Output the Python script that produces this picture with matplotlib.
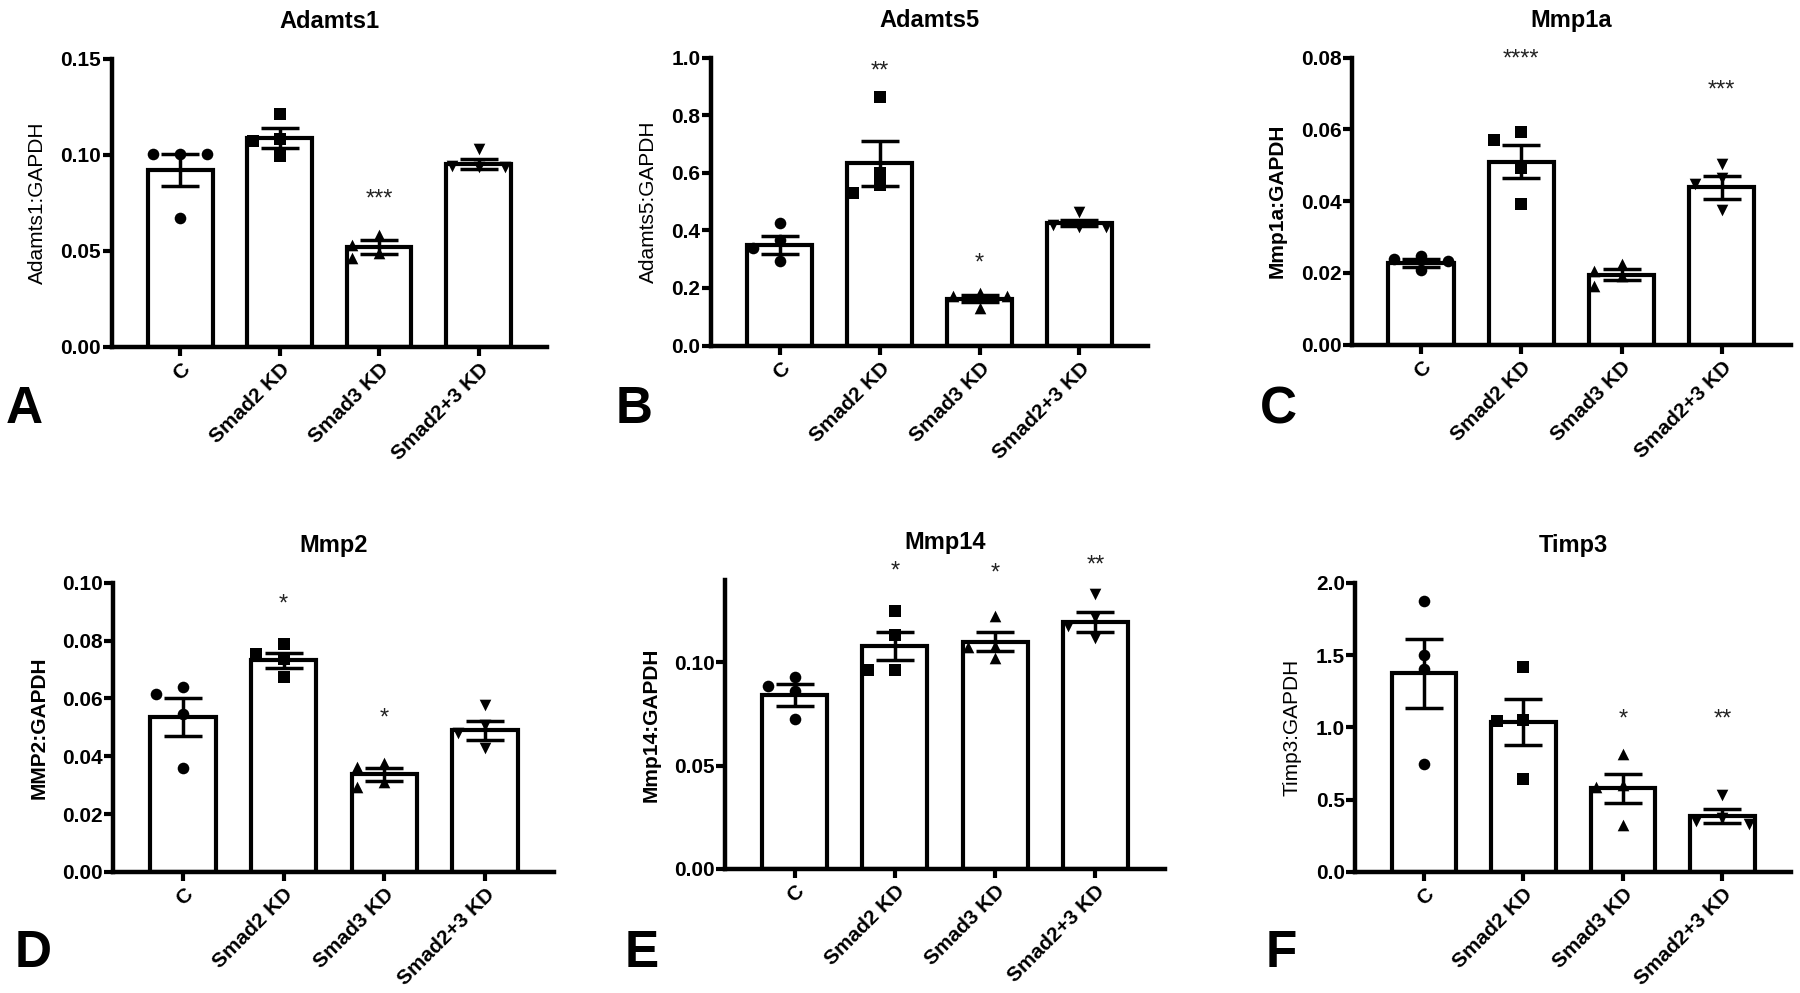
import matplotlib
matplotlib.use('Agg')
import matplotlib.pyplot as plt
import numpy as np
from matplotlib.ticker import FormatStrFormatter

plt.rcParams['font.family'] = ['Liberation Sans', 'DejaVu Sans']

groups = ['C', 'Smad2 KD', 'Smad3 KD', 'Smad2+3 KD']
markers = ['o', 's', '^', 'v']

# Adamts1
adamts1_mean = [0.092, 0.1085, 0.0517, 0.0949]
adamts1_sem = [0.0085, 0.0052, 0.0037, 0.0026]
adamts1_points = [[0.1002, 0.1005, 0.1005, 0.0668],
                  [0.121, 0.108, 0.107, 0.099],
                  [0.0581, 0.0529, 0.0486, 0.046],
                  [0.1027, 0.0936, 0.094, 0.0936]]
adamts1_stars = [(2, '***', 0.0766)]

# Adamts5
adamts5_mean = [0.350, 0.633, 0.162, 0.425]
adamts5_sem = [0.032, 0.078, 0.012, 0.011]
adamts5_points = [[0.425, 0.367, 0.338, 0.292],
                  [0.864, 0.598, 0.558, 0.529],
                  [0.182, 0.173, 0.171, 0.130],
                  [0.465, 0.413, 0.419, 0.41]]
adamts5_stars = [(1, '**', 0.953), (2, '*', 0.284)]

# Mmp1a
mmp1a_mean = [0.0227, 0.051, 0.0195, 0.0438]
mmp1a_sem = [0.0011, 0.0046, 0.0016, 0.0031]
mmp1a_points = [[0.0248, 0.0238, 0.0232, 0.0207],
                [0.0593, 0.057, 0.0491, 0.0392],
                [0.0224, 0.0204, 0.0192, 0.0162],
                [0.0503, 0.0464, 0.0447, 0.0374]]
mmp1a_stars = [(1, '****', 0.0795), (3, '***', 0.0707)]

# Mmp2
mmp2_mean = [0.0536, 0.0732, 0.0337, 0.049]
mmp2_sem = [0.0065, 0.0025, 0.0022, 0.0033]
mmp2_points = [[0.0640, 0.0615, 0.0548, 0.0360],
               [0.0788, 0.0753, 0.0735, 0.0675],
               [0.0377, 0.0363, 0.0311, 0.0294],
               [0.0579, 0.0507, 0.0479, 0.0427]]
mmp2_stars = [(1, '*', 0.0926), (2, '*', 0.053)]

# Mmp14
mmp14_mean = [0.0843, 0.1078, 0.110, 0.1197]
mmp14_sem = [0.0052, 0.0068, 0.0046, 0.0047]
mmp14_points = [[0.0932, 0.0887, 0.0862, 0.0725],
                [0.125, 0.1133, 0.0964, 0.0964],
                [0.1227, 0.108, 0.1073, 0.102],
                [0.1332, 0.1218, 0.1175, 0.1117]]
mmp14_stars = [(1, '*', 0.144), (2, '*', 0.143), (3, '**', 0.147)]

# Timp3
timp3_mean = [1.373, 1.038, 0.577, 0.385]
timp3_sem = [0.24, 0.157, 0.10, 0.05]
timp3_points = [[1.875, 1.499, 1.407, 0.745],
                [1.419, 1.05, 1.045, 0.646],
                [0.814, 0.60, 0.588, 0.323],
                [0.531, 0.37, 0.35, 0.33]]
timp3_stars = [(2, '*', 1.054), (3, '**', 1.054)]

panels = [
    dict(title='Adamts1', ylabel='Adamts1:GAPDH', mean=adamts1_mean, sem=adamts1_sem,
         points=adamts1_points, stars=adamts1_stars, yticks=[0, 0.05, 0.10, 0.15], fmt='%.2f',
         letter='A', rect=[0.062, 0.651, 0.242, 0.290], letter_xy=(0.003, 0.574), lw='normal'),
    dict(title='Adamts5', ylabel='Adamts5:GAPDH', mean=adamts5_mean, sem=adamts5_sem,
         points=adamts5_points, stars=adamts5_stars, yticks=[0, 0.2, 0.4, 0.6, 0.8, 1.0], fmt='%.1f',
         letter='B', rect=[0.395, 0.652, 0.243, 0.290], letter_xy=(0.342, 0.574), lw='normal'),
    dict(title='Mmp1a', ylabel='Mmp1a:GAPDH', mean=mmp1a_mean, sem=mmp1a_sem,
         points=mmp1a_points, stars=mmp1a_stars, yticks=[0, 0.02, 0.04, 0.06, 0.08], fmt='%.2f',
         letter='C', rect=[0.751, 0.653, 0.244, 0.289], letter_xy=(0.700, 0.574), lw='bold'),
    dict(title='Mmp2', ylabel='MMP2:GAPDH', mean=mmp2_mean, sem=mmp2_sem,
         points=mmp2_points, stars=mmp2_stars, yticks=[0, 0.02, 0.04, 0.06, 0.08, 0.10], fmt='%.2f',
         letter='D', rect=[0.063, 0.122, 0.245, 0.291], letter_xy=(0.008, 0.026), lw='bold'),
    dict(title='Mmp14', ylabel='Mmp14:GAPDH', mean=mmp14_mean, sem=mmp14_sem,
         points=mmp14_points, stars=mmp14_stars, yticks=[0, 0.05, 0.10], fmt='%.2f', ymax=0.14,
         letter='E', rect=[0.403, 0.125, 0.244, 0.291], letter_xy=(0.347, 0.026), lw='bold'),
    dict(title='Timp3', ylabel='Timp3:GAPDH', mean=timp3_mean, sem=timp3_sem,
         points=timp3_points, stars=timp3_stars, yticks=[0, 0.5, 1.0, 1.5, 2.0], fmt='%.1f',
         letter='F', rect=[0.753, 0.122, 0.242, 0.291], letter_xy=(0.703, 0.026), lw='normal'),
]


def swarm_offsets(ax, x0, values, step=0.27, min_dist=11):
    # spread overlapping points sideways, GraphPad style
    pts = ax.transData.transform(np.column_stack([np.full(len(values), x0), values]))
    px_unit = ax.transData.transform([(1, 0)])[0][0] - ax.transData.transform([(0, 0)])[0][0]
    placed = []
    offsets = []
    for _, py in pts:
        for k in [0, -1, 1, -2, 2, -3, 3]:
            px = k * step * px_unit
            if all(np.hypot(px - qx, py - qy) >= min_dist for qx, qy in placed):
                break
        placed.append((px, py))
        offsets.append(k * step)
    return np.array(offsets)


fig = plt.figure(figsize=(18, 9.93), dpi=100)

for p in panels:
    ax = fig.add_axes(p['rect'])
    x = np.arange(len(groups))
    ax.bar(x, p['mean'], width=0.65, color='white', edgecolor='black', linewidth=3, zorder=2)
    ax.set_xlim(-0.69, 3.69)
    ax.set_ylim(0, p.get('ymax', p['yticks'][-1]))
    ax.set_yticks(p['yticks'])
    ax.yaxis.set_major_formatter(FormatStrFormatter(p['fmt']))

    for i, vals in enumerate(p['points']):
        off = swarm_offsets(ax, i, vals)
        ax.scatter(i + off, vals, marker=markers[i], s=70, color='black',
                   linewidths=0, zorder=3, clip_on=False)

    ax.errorbar(x, p['mean'], yerr=p['sem'], fmt='none', ecolor='black',
                elinewidth=2.5, capsize=14, capthick=2.5, zorder=4)

    for i, label, y in p['stars']:
        ax.text(i, y, label, ha='center', va='center', fontsize=17, color='#222222')

    for side in ['top', 'right']:
        ax.spines[side].set_visible(False)
    for side in ['left', 'bottom']:
        ax.spines[side].set_linewidth(3.2)
        ax.spines[side].set_capstyle('projecting')

    ax.tick_params(axis='both', width=3, length=6.5, labelsize=15, pad=1)
    ax.tick_params(axis='x', pad=3)
    ax.set_xticks(x)
    ax.set_xticklabels(groups, rotation=45, ha='right', rotation_mode='anchor', fontweight='bold')
    for t in ax.get_yticklabels():
        t.set_fontweight('bold')

    ax.set_title(p['title'], fontsize=17, fontweight='bold', pad=22)
    ax.set_ylabel(p['ylabel'], fontsize=15, fontweight=p['lw'], labelpad=10)

    fig.text(p['letter_xy'][0], p['letter_xy'][1], p['letter'], fontsize=37,
             fontweight='bold', ha='left', va='baseline')

fig.savefig('out.png', dpi=100)
